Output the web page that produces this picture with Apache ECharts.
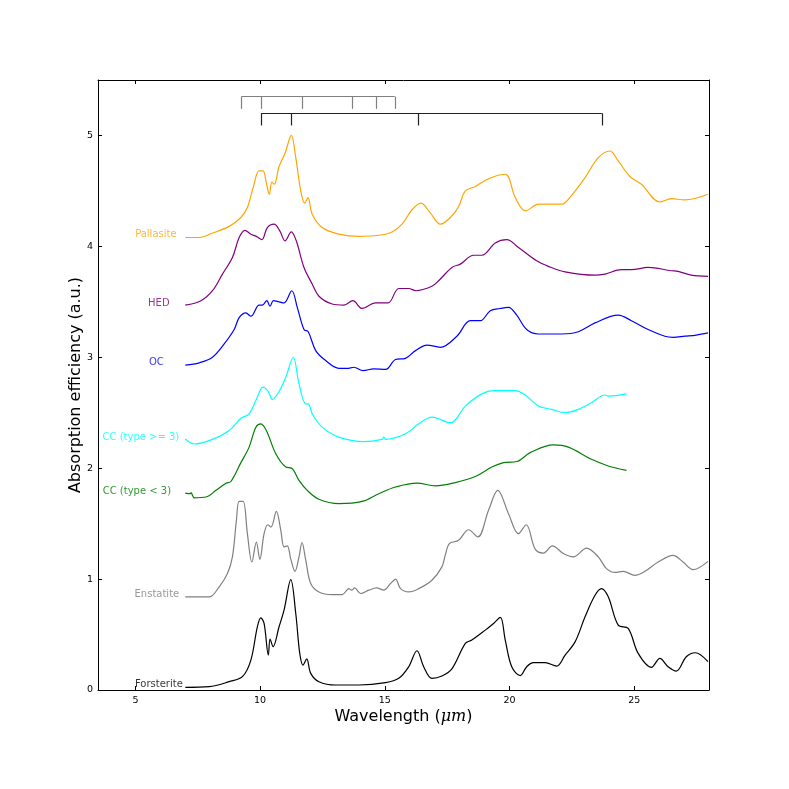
<!DOCTYPE html>
<html><head><meta charset="utf-8">
<script src="https://cdn.jsdelivr.net/npm/echarts@6/dist/echarts.min.js"></script>
<style>html,body{margin:0;padding:0;background:#fff}#c{width:789px;height:789px}</style>
</head><body><div id="c"></div>
<script>
// ---- data (wavelength in µm, absorption efficiency offset in a.u.) ----
const forsterite = [[7.0,0.024],[7.96,0.03],[8.76,0.075],[9.29,0.12],[9.63,0.27],[9.89,0.57],[10.03,0.65],[10.16,0.60],[10.33,0.315],[10.40,0.46],[10.52,0.39],[10.76,0.57],[10.96,0.72],[11.23,0.995],[11.43,0.69],[11.59,0.33],[11.72,0.225],[11.87,0.28],[12.03,0.15],[12.36,0.075],[13.03,0.045],[13.96,0.045],[15.03,0.066],[15.56,0.105],[15.96,0.21],[16.29,0.354],[16.56,0.21],[16.89,0.105],[17.29,0.126],[17.69,0.19],[18.23,0.42],[18.49,0.45],[19.03,0.54],[19.36,0.6],[19.63,0.654],[19.83,0.45],[20.09,0.21],[20.43,0.13],[20.69,0.21],[20.96,0.246],[21.43,0.246],[21.89,0.216],[22.23,0.315],[22.63,0.434],[23.03,0.66],[23.43,0.854],[23.69,0.914],[23.96,0.84],[24.36,0.585],[24.76,0.555],[25.16,0.33],[25.69,0.204],[26.03,0.285],[26.36,0.21],[26.69,0.171],[27.09,0.30],[27.45,0.336],[27.96,0.255]];
const enstatite = [[7.0,0.84],[7.96,0.84],[8.36,0.93],[8.69,1.05],[8.89,1.2],[9.05,1.53],[9.16,1.70],[9.32,1.70],[9.49,1.41],[9.67,1.154],[9.85,1.334],[9.99,1.178],[10.16,1.41],[10.31,1.49],[10.44,1.47],[10.65,1.61],[10.83,1.44],[10.96,1.29],[11.09,1.30],[11.23,1.18],[11.40,1.07],[11.56,1.2],[11.68,1.33],[11.83,1.17],[12.03,0.96],[12.36,0.884],[12.89,0.86],[13.29,0.86],[13.56,0.914],[13.67,0.90],[13.79,0.92],[14.03,0.87],[14.36,0.90],[14.67,0.92],[14.96,0.90],[15.23,0.96],[15.43,1.0],[15.63,0.914],[15.96,0.884],[16.36,0.914],[16.89,0.99],[17.29,1.11],[17.43,1.22],[17.59,1.32],[17.96,1.35],[18.36,1.445],[18.73,1.38],[19.16,1.62],[19.53,1.80],[19.96,1.59],[20.36,1.41],[20.67,1.49],[21.03,1.27],[21.36,1.235],[21.72,1.30],[22.16,1.23],[22.56,1.20],[23.09,1.28],[23.56,1.20],[23.89,1.094],[24.23,1.06],[24.56,1.07],[25.03,1.034],[25.43,1.07],[25.96,1.154],[26.56,1.214],[26.96,1.154],[27.36,1.085],[27.96,1.16]];
const ccLow = [[7.0,1.775],[7.2,1.77],[7.23,1.78],[7.36,1.733],[7.83,1.74],[8.23,1.80],[8.63,1.865],[8.83,1.88],[9.23,2.05],[9.56,2.19],[9.83,2.37],[10.03,2.40],[10.25,2.34],[10.63,2.13],[11.03,2.01],[11.27,2.0],[11.56,1.89],[11.89,1.80],[12.36,1.72],[13.16,1.68],[14.09,1.70],[14.76,1.77],[15.43,1.83],[16.29,1.865],[17.03,1.84],[17.83,1.87],[18.63,1.925],[19.29,2.01],[19.76,2.05],[20.29,2.06],[20.83,2.14],[21.76,2.21],[22.36,2.19],[23.29,2.08],[23.96,2.02],[24.69,1.98]];
const ccHigh = [[7.0,2.263],[7.36,2.218],[8.09,2.26],[8.76,2.34],[9.23,2.45],[9.56,2.49],[9.83,2.61],[10.12,2.73],[10.33,2.69],[10.49,2.62],[10.73,2.68],[11.03,2.82],[11.33,3.0],[11.56,2.76],[11.83,2.58],[11.93,2.58],[12.09,2.49],[12.49,2.37],[13.16,2.28],[14.16,2.24],[14.89,2.26],[14.96,2.28],[15.03,2.26],[15.83,2.31],[16.36,2.40],[16.89,2.46],[17.63,2.41],[18.23,2.56],[18.89,2.67],[19.36,2.70],[20.23,2.70],[20.63,2.66],[21.16,2.56],[21.69,2.53],[22.23,2.50],[22.76,2.53],[23.29,2.59],[23.83,2.66],[23.96,2.65],[24.69,2.67]];
const oc = [[7.0,2.93],[7.56,2.95],[8.09,3.0],[8.56,3.12],[8.96,3.25],[9.16,3.357],[9.43,3.40],[9.63,3.37],[9.96,3.47],[10.09,3.47],[10.27,3.51],[10.40,3.46],[10.53,3.51],[10.76,3.50],[10.96,3.49],[11.27,3.60],[11.49,3.45],[11.76,3.25],[11.93,3.23],[12.23,3.06],[12.63,2.97],[13.16,2.90],[13.49,2.90],[13.76,2.91],[14.13,2.88],[14.56,2.895],[15.03,2.89],[15.43,2.98],[15.83,2.99],[16.23,3.06],[16.69,3.11],[17.23,3.09],[17.89,3.19],[18.43,3.33],[18.83,3.33],[19.23,3.42],[19.63,3.44],[19.96,3.45],[20.29,3.38],[20.69,3.25],[21.16,3.21],[22.09,3.21],[22.76,3.23],[23.43,3.31],[24.36,3.38],[24.89,3.33],[25.56,3.25],[26.23,3.19],[26.56,3.18],[27.03,3.19],[27.49,3.20],[27.96,3.22]];
const hed = [[7.0,3.47],[7.63,3.51],[8.09,3.60],[8.49,3.75],[8.89,3.90],[9.16,4.08],[9.39,4.145],[9.63,4.11],[9.85,4.09],[10.07,4.06],[10.29,4.17],[10.56,4.20],[10.79,4.14],[11.0,4.05],[11.25,4.13],[11.45,4.05],[11.76,3.81],[12.09,3.66],[12.36,3.55],[12.89,3.48],[13.36,3.47],[13.72,3.51],[14.09,3.44],[14.63,3.49],[15.13,3.49],[15.56,3.62],[15.96,3.62],[16.25,3.60],[16.89,3.64],[17.16,3.69],[17.69,3.81],[18.03,3.84],[18.56,3.92],[18.89,3.92],[19.43,4.03],[19.89,4.06],[20.36,3.99],[21.09,3.87],[21.56,3.82],[22.23,3.77],[23.43,3.74],[23.83,3.75],[24.49,3.79],[24.89,3.79],[25.56,3.81],[26.49,3.78],[26.76,3.775],[27.29,3.74],[27.96,3.73]];
const pallasite = [[7.0,4.08],[7.56,4.08],[8.09,4.12],[8.76,4.18],[9.23,4.26],[9.49,4.35],[9.72,4.53],[9.96,4.68],[10.12,4.68],[10.25,4.57],[10.37,4.47],[10.47,4.58],[10.57,4.56],[10.76,4.72],[11.0,4.84],[11.25,5.0],[11.43,4.80],[11.63,4.50],[11.79,4.39],[11.92,4.44],[12.09,4.29],[12.49,4.17],[13.16,4.11],[13.96,4.09],[14.76,4.10],[15.29,4.13],[15.69,4.20],[16.09,4.33],[16.45,4.39],[16.83,4.30],[17.23,4.20],[17.63,4.26],[17.96,4.36],[18.23,4.50],[18.63,4.54],[19.16,4.61],[19.83,4.65],[20.23,4.44],[20.65,4.32],[21.16,4.38],[22.09,4.38],[22.49,4.46],[23.03,4.62],[23.56,4.80],[24.03,4.86],[24.36,4.77],[24.83,4.63],[25.29,4.56],[26.03,4.40],[26.49,4.43],[27.03,4.42],[27.96,4.47]];

// peak markers (brackets)
const enstatitePeaks = [9.25, 10.05, 11.7, 13.7, 14.65, 15.4];
const forsteritePeaks = [10.05, 11.25, 16.35, 23.7];
const enstatiteBracket = [5.35, 5.24]; // top, tick end
const forsteriteBracket = [5.2, 5.09];

// labels
const labelNames = ['Pallasite','HED','OC','CC (type >= 3)','CC (type < 3)','Enstatite','Forsterite'];
const labelX = [5.82, 5.94, 5.84, 5.22, 5.06, 5.86, 5.94];
const labelY = [4.11, 3.49, 2.95, 2.275, 1.79, 0.863, 0.054];

const xTicks = [5, 10, 15, 20, 25];
const yTicks = [0, 1, 2, 3, 4, 5];

// ---- chart ----
const colors = ['#FFA500','#800080','#0000FF','#00FFFF','#008000','#808080','#000000'];
const datasets = [pallasite, hed, oc, ccHigh, ccLow, enstatite, forsterite];
const FONT = 'DejaVu Sans';

function bracket(peaks, lv, color) {
  const d = [];
  d.push([{coord:[peaks[0], lv[0]]},{coord:[peaks[peaks.length-1], lv[0]]}]);
  peaks.forEach(p => d.push([{coord:[p, lv[0]]},{coord:[p, lv[1]]}]));
  return {
    type: 'line', data: [], xAxisIndex: 0, yAxisIndex: 0, silent: true,
    markLine: {symbol: ['none','none'], silent: true, label: {show:false},
      lineStyle: {color: color, width: 1.2, type: 'solid'}, emphasis:{disabled:true}, data: d}
  };
}

const series = datasets.map((d, i) => ({
  type: 'line', name: labelNames[i], data: d, showSymbol: false, smooth: 0.35,
  lineStyle: {color: colors[i], width: 1.2}, itemStyle: {color: colors[i]}, silent: true, z: 3
}));
series.push(bracket(enstatitePeaks, enstatiteBracket, '#808080'));
series.push(bracket(forsteritePeaks, forsteriteBracket, '#222222'));
series.push({
  type: 'scatter', symbolSize: 0, silent: true,
  data: labelNames.map((n, i) => ({value: [labelX[i], labelY[i]], name: n,
    label: {show: true, position: 'inside', formatter: n, color: colors[i], fontSize: 10, fontFamily: FONT}}))
});

const lineStyleAx = {show: true, onZero: false, lineStyle: {color: '#000', width: 1}};

const option = {
  animation: false,
  backgroundColor: '#fff',
  grid: {left: 98, right: 80, top: 80, bottom: 99},
  xAxis: [
    {type: 'value', position: 'bottom', min: 3.5, max: 28, splitLine: {show: false}, axisLine: lineStyleAx,
      axisTick: {inside: true, length: 4, customValues: xTicks, lineStyle:{color:'#000'}},
      axisLabel: {customValues: xTicks, fontSize: 9.5, fontFamily: FONT, color: '#000', margin: 6},
      name: 'Wavelength ({i|μm})', nameLocation: 'middle', nameGap: 19, nameMoveOverlap: false,
      nameTextStyle: {fontSize: 16, fontFamily: FONT, color: '#000',
        rich: {i: {fontSize: 16, fontFamily: 'DejaVu Serif', fontStyle: 'italic', color: '#000'}}}},
    {type: 'value', position: 'top', min: 3.5, max: 28, splitLine: {show: false}, axisLine: lineStyleAx,
      axisTick: {inside: true, length: 4, customValues: xTicks, lineStyle:{color:'#000'}},
      axisLabel: {show: false}}
  ],
  yAxis: [
    {type: 'value', position: 'left', min: 0, max: 5.5, splitLine: {show: false}, axisLine: lineStyleAx,
      axisTick: {inside: true, length: 4, customValues: yTicks, lineStyle:{color:'#000'}},
      axisLabel: {customValues: yTicks, fontSize: 9.5, fontFamily: FONT, color: '#000', margin: 5},
      name: 'Absorption efficiency (a.u.)', nameLocation: 'middle', nameGap: 14, nameRotate: 90, nameMoveOverlap: false,
      nameTextStyle: {fontSize: 16, fontFamily: FONT, color: '#000'}},
    {type: 'value', position: 'right', min: 0, max: 5.5, splitLine: {show: false}, axisLine: lineStyleAx,
      axisTick: {inside: true, length: 4, customValues: yTicks, lineStyle:{color:'#000'}},
      axisLabel: {show: false}}
  ],
  series: series
};
const chart = echarts.init(document.getElementById('c'), null, {renderer: 'canvas'});
chart.setOption(option);
</script>
</body></html>
